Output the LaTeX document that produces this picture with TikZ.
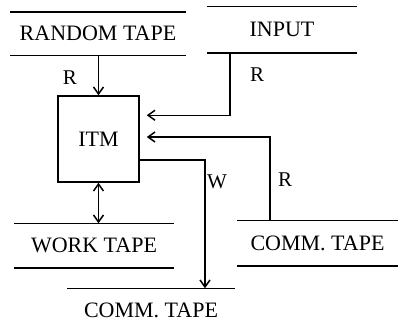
\documentclass[tikz,border=0pt]{standalone}
\usepackage{fontspec}
\setmainfont{Liberation Serif}
\usepackage{tikz}
\usetikzlibrary{arrows.meta,positioning,calc}

\begin{document}
\begin{tikzpicture}[
  x=1pt, y=-1pt,
  line width=1.5pt,
  tape/.style={inner sep=0pt, minimum height=42pt, font=\fontsize{22}{26}\selectfont},
  machine/.style={draw, inner sep=0pt, minimum width=81pt, minimum height=86pt, font=\fontsize{22}{26}\selectfont},
  lbl/.style={font=\fontsize{21}{25}\selectfont, inner sep=0pt},
  arrow/.style={-{Straight Barb[length=7pt,width=10pt]}},
  darrow/.style={{Straight Barb[length=7pt,width=10pt]}-{Straight Barb[length=7pt,width=10pt]}}
]
\useasboundingbox (0,0) rectangle (401,330);

% tapes
\node[tape, minimum width=174pt] (rand) at (98,33.5) {RANDOM TAPE};
\node[tape, minimum width=148pt, minimum height=45pt] (input) at (282,29.5) {INPUT};
\node[tape, minimum width=158pt, minimum height=43pt] (work) at (94,245.5) {WORK TAPE};
\node[tape, minimum width=159pt, minimum height=44pt] (commr) at (317.5,243) {COMM. TAPE};
\node[tape, minimum width=167pt] (commb) at (151,310) {COMM. TAPE};

\foreach \t in {rand,input,work,commr}{
  \draw (\t.north west) -- (\t.north east);
  \draw (\t.south west) -- (\t.south east);
}
\draw (commb.north west) -- (commb.north east);

% machine
\node[machine] (itm) at (98.5,139) {ITM};

% connections
\draw[arrow] (rand.south -| itm.north) -- (itm.north);
\draw[arrow] ([xshift=-52pt]input.south) |- ([xshift=7pt,yshift=-20pt]itm.north east);
\draw[arrow] ([xshift=-47.5pt]commr.north) |- ([xshift=7pt,yshift=2pt]itm.east);
\draw[arrow] ([yshift=-21pt]itm.east) -| ([xshift=54pt]commb.north);
\draw[darrow] (itm.south) -- (itm.south |- work.north);

% labels
\node[lbl] (rr) at (70,78) {R};
\node[lbl] (ri) at (257,75) {R};
\node[lbl] (rc) at (285,180) {R};
\node[lbl] (wc) at (217,182) {W};
\end{tikzpicture}
\end{document}
